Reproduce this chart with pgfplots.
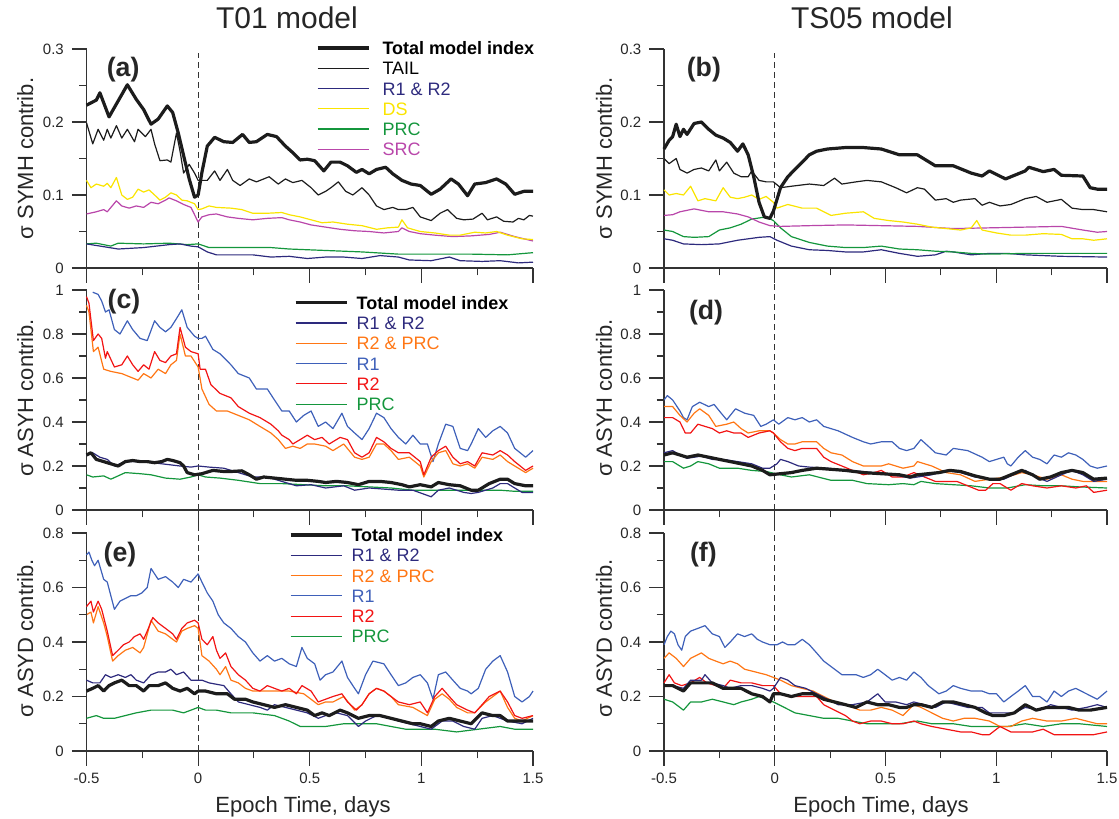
\documentclass[border=0pt]{standalone}
\usepackage{fontspec}
\setmainfont{Liberation Sans}
\usepackage{pgfplots}
\pgfplotsset{compat=1.18}
\definecolor{cnavy}{RGB}{45,42,125}
\definecolor{cyel}{RGB}{250,228,0}
\definecolor{cgreen}{RGB}{20,150,60}
\definecolor{cmag}{RGB}{185,70,170}
\definecolor{corange}{RGB}{255,118,20}
\definecolor{cblue}{RGB}{62,96,185}
\definecolor{cred}{RGB}{242,20,20}
\definecolor{cblk}{RGB}{28,28,28}
\tikzset{plab/.style={font=\bfseries\fontsize{20}{24}\selectfont, text=black!85},
  tickline/.style={draw=black!80, line width=0.8pt, line cap=butt}}
\newcommand{\panelticks}[2]{%
  \pgfplotsinvokeforeach{-0.5,0,0.5,1,1.5}{\draw[tickline] (axis cs:##1,0) -- ++(0pt,-11pt);}%
  \pgfplotsinvokeforeach{-0.25,0.25,0.75,1.25}{\draw[tickline] (axis cs:##1,0) -- ++(0pt,-5.6pt);}%
  \pgfplotsinvokeforeach{#1}{\draw[tickline] (axis cs:-0.5,##1) -- ++(-11pt,0pt);}%
  \pgfplotsinvokeforeach{#2}{\draw[tickline] (axis cs:-0.5,##1) -- ++(-5.6pt,0pt);}%
}
\pgfplotsset{
 panel/.style={
  scale only axis, anchor=south west, clip=false,
  axis x line*=bottom, axis y line*=left,
  xtick pos=left, ytick pos=left,
  axis line style={-, line width=0.8pt, draw=black!80},
  tick align=outside, major tick length=11pt, minor tick length=5.6pt,
  every tick/.style={draw=black!80, line width=0.8pt},
  xmin=-0.5, xmax=1.5, xtick={-0.5,0,0.5,1,1.5}, minor xtick={-0.25,0.25,0.75,1.25},
  ymin=0,
  tick label style={font=\fontsize{11.25}{13}\selectfont, text=black!85},
  yticklabel style={xshift=-2.5pt},
  xticklabel style={yshift=-2pt},
  label style={font=\fontsize{16.5}{19}\selectfont, text=black!85},
  xlabel style={at={(axis description cs:0.485,0)}, anchor=center, yshift=-42pt},
  every axis plot/.append style={line width=0.9pt, line join=round},
  legend cell align=left,
  legend image code/.code={\draw[##1] (0pt,0pt) -- (38.5pt,0pt);},
  legend style={draw=none, fill=none, inner sep=0pt, outer sep=0pt, row sep=0pt, anchor=north west,
    font=\fontsize{13.5}{15}\selectfont, nodes={inner sep=0pt, text height=12.5pt, text depth=2.7pt}},
  title style={font=\fontsize{22.5}{26}\selectfont, anchor=center, text=black!85},
 },
 totstyle/.style={cblk, line width=2.4pt},
 zeroline/.style={forget plot, black!80, line width=0.75pt, dash pattern=on 4.5pt off 3pt},
}
\begin{document}
\begin{tikzpicture}
\useasboundingbox (0,0) rectangle (839.25pt,613.5pt);
% ================= (a) =================
\begin{axis}[panel, at={(64.875pt,412.5pt)}, width=334.875pt, height=164.25pt, ymax=0.3,
  ytick={0,0.1,0.2,0.3}, yticklabels={0,0.1,0.2,0.3}, minor ytick={0.05,0.15,0.25},
  xticklabels={},
  ylabel={σ SYMH contrib.}, ylabel style={at={(axis description cs:-0.1374,0.5)}, anchor=center},
  title={T01 model}, title style={at={(axis description cs:0.449,1.105)}},
  legend style={at={(axis description cs:0.514,1.051)}, /tikz/every odd column/.style={column sep=9pt}}]
\addlegendimage{totstyle}\addlegendentry{\textbf{Total model index}}
\addlegendimage{cblk, line width=0.9pt}\addlegendentry{TAIL}
\addlegendimage{cnavy, line width=0.9pt}\addlegendentry{\textcolor{cnavy}{R1 \& R2}}
\addlegendimage{cyel, line width=0.9pt}\addlegendentry{\textcolor{cyel}{DS}}
\addlegendimage{cgreen, line width=0.9pt}\addlegendentry{\textcolor{cgreen}{PRC}}
\addlegendimage{cmag, line width=0.9pt}\addlegendentry{\textcolor{cmag}{SRC}}
\addplot[zeroline] coordinates {(0,0) (0,0.295)};
\addplot[forget plot, cgreen] coordinates {(-0.5,0.033) (-0.456,0.034) (-0.391,0.03) (-0.358,0.034) (-0.244,0.033) (-0.13,0.034) (-0.049,0.032) (0,0.033) (0.049,0.028) (0.163,0.028) (0.326,0.028) (0.408,0.026) (0.571,0.024) (0.734,0.022) (0.897,0.019) (1.06,0.019) (1.223,0.019) (1.386,0.018) (1.5,0.021)};
\addplot[forget plot, cnavy] coordinates {(-0.5,0.033) (-0.358,0.026) (-0.244,0.028) (-0.13,0.032) (-0.081,0.033) (-0.032,0.03) (0,0.029) (0.041,0.022) (0.082,0.018) (0.245,0.018) (0.326,0.015) (0.408,0.016) (0.489,0.013) (0.571,0.015) (0.652,0.015) (0.734,0.013) (0.815,0.017) (0.897,0.015) (0.946,0.011) (1.044,0.01) (1.125,0.015) (1.174,0.01) (1.272,0.009) (1.353,0.01) (1.435,0.007) (1.5,0.008)};
\addplot[forget plot, cmag] coordinates {(-0.5,0.074) (-0.456,0.077) (-0.423,0.08) (-0.407,0.077) (-0.366,0.092) (-0.342,0.085) (-0.309,0.082) (-0.277,0.085) (-0.244,0.083) (-0.211,0.09) (-0.179,0.088) (-0.146,0.093) (-0.13,0.096) (-0.097,0.092) (-0.065,0.087) (-0.032,0.083) (0,0.063) (0.017,0.07) (0.049,0.073) (0.082,0.074) (0.131,0.07) (0.18,0.068) (0.245,0.066) (0.31,0.068) (0.375,0.069) (0.408,0.066) (0.457,0.063) (0.506,0.059) (0.571,0.056) (0.636,0.053) (0.701,0.051) (0.766,0.05) (0.832,0.048) (0.897,0.05) (0.913,0.055) (0.946,0.05) (0.995,0.047) (1.06,0.045) (1.141,0.043) (1.223,0.044) (1.304,0.046) (1.353,0.049) (1.418,0.043) (1.5,0.037)};
\addplot[forget plot, cyel] coordinates {(-0.5,0.12) (-0.48,0.11) (-0.456,0.115) (-0.423,0.112) (-0.407,0.116) (-0.391,0.11) (-0.366,0.124) (-0.342,0.1) (-0.317,0.094) (-0.293,0.097) (-0.269,0.108) (-0.244,0.104) (-0.22,0.107) (-0.195,0.1) (-0.171,0.093) (-0.146,0.097) (-0.122,0.103) (-0.097,0.1) (-0.073,0.093) (-0.049,0.092) (-0.016,0.088) (0,0.08) (0.017,0.081) (0.049,0.085) (0.082,0.083) (0.147,0.082) (0.196,0.08) (0.245,0.075) (0.31,0.075) (0.375,0.076) (0.408,0.073) (0.457,0.07) (0.506,0.066) (0.555,0.062) (0.604,0.063) (0.669,0.06) (0.734,0.058) (0.799,0.053) (0.848,0.055) (0.897,0.056) (0.913,0.066) (0.938,0.055) (0.995,0.05) (1.06,0.048) (1.125,0.045) (1.174,0.045) (1.239,0.049) (1.288,0.048) (1.337,0.05) (1.386,0.045) (1.451,0.04) (1.5,0.039)};
\addplot[forget plot, cblk] coordinates {(-0.5,0.199) (-0.472,0.17) (-0.448,0.19) (-0.423,0.175) (-0.407,0.19) (-0.391,0.178) (-0.366,0.195) (-0.342,0.178) (-0.317,0.19) (-0.285,0.173) (-0.269,0.19) (-0.236,0.18) (-0.211,0.19) (-0.195,0.17) (-0.171,0.147) (-0.138,0.148) (-0.122,0.145) (-0.097,0.185) (-0.081,0.16) (-0.065,0.13) (-0.04,0.142) (-0.016,0.13) (0,0.12) (0.017,0.12) (0.041,0.12) (0.074,0.133) (0.098,0.12) (0.131,0.135) (0.155,0.12) (0.188,0.113) (0.229,0.122) (0.261,0.118) (0.318,0.125) (0.359,0.115) (0.391,0.122) (0.424,0.117) (0.465,0.12) (0.506,0.11) (0.538,0.1) (0.571,0.105) (0.595,0.11) (0.628,0.118) (0.661,0.105) (0.693,0.1) (0.734,0.11) (0.766,0.1) (0.799,0.085) (0.832,0.08) (0.872,0.083) (0.897,0.08) (0.93,0.08) (0.962,0.083) (0.995,0.07) (1.044,0.065) (1.084,0.075) (1.117,0.08) (1.158,0.068) (1.19,0.066) (1.231,0.067) (1.272,0.075) (1.296,0.066) (1.337,0.07) (1.369,0.064) (1.41,0.063) (1.435,0.068) (1.459,0.066) (1.484,0.072) (1.5,0.071)};
\addplot[forget plot, totstyle] coordinates {(-0.5,0.223) (-0.456,0.23) (-0.44,0.24) (-0.399,0.207) (-0.317,0.251) (-0.277,0.231) (-0.244,0.217) (-0.211,0.197) (-0.179,0.204) (-0.138,0.222) (-0.114,0.213) (-0.089,0.185) (-0.065,0.154) (-0.04,0.122) (-0.016,0.097) (0,0.1) (0.017,0.131) (0.041,0.167) (0.074,0.179) (0.115,0.173) (0.155,0.172) (0.199,0.183) (0.229,0.172) (0.261,0.173) (0.31,0.183) (0.351,0.18) (0.391,0.167) (0.424,0.158) (0.457,0.148) (0.489,0.149) (0.522,0.147) (0.563,0.133) (0.595,0.145) (0.636,0.145) (0.669,0.14) (0.709,0.131) (0.734,0.135) (0.766,0.129) (0.799,0.135) (0.84,0.138) (0.872,0.129) (0.913,0.12) (0.954,0.115) (0.995,0.113) (1.044,0.101) (1.084,0.108) (1.133,0.122) (1.166,0.115) (1.207,0.099) (1.239,0.115) (1.288,0.117) (1.337,0.122) (1.378,0.115) (1.418,0.101) (1.459,0.105) (1.5,0.105)};
\panelticks{0,0.1,0.2,0.3}{0.05,0.15,0.25}
\node[plab] at (axis description cs:0.082,0.904) {(a)};
\end{axis}
% ================= (b) =================
\begin{axis}[panel, at={(498pt,412.5pt)}, width=332.25pt, height=164.25pt, ymax=0.3,
  ytick={0,0.1,0.2,0.3}, yticklabels={0,0.1,0.2,0.3}, minor ytick={0.05,0.15,0.25},
  xticklabels={},
  ylabel={σ SYMH contrib.}, ylabel style={at={(axis description cs:-0.1354,0.5)}, anchor=center},
  title={TS05 model}, title style={at={(axis description cs:0.4695,1.105)}}]
\addplot[zeroline] coordinates {(0,0) (0,0.295)};
\addplot[cnavy] coordinates {(-0.5,0.04) (-0.461,0.038) (-0.412,0.033) (-0.331,0.032) (-0.25,0.033) (-0.168,0.038) (-0.071,0.042) (-0.022,0.043) (0.01,0.038) (0.075,0.03) (0.156,0.025) (0.238,0.024) (0.319,0.022) (0.4,0.022) (0.481,0.025) (0.563,0.02) (0.644,0.016) (0.725,0.018) (0.774,0.023) (0.806,0.022) (0.887,0.018) (0.969,0.02) (1.05,0.02) (1.131,0.018) (1.294,0.016) (1.5,0.015)};
\addplot[cgreen] coordinates {(-0.5,0.052) (-0.461,0.05) (-0.412,0.043) (-0.364,0.042) (-0.298,0.043) (-0.25,0.052) (-0.201,0.055) (-0.152,0.06) (-0.104,0.067) (-0.039,0.07) (-0.006,0.065) (0.026,0.055) (0.075,0.043) (0.156,0.035) (0.238,0.03) (0.319,0.028) (0.4,0.028) (0.481,0.03) (0.563,0.026) (0.644,0.025) (0.725,0.023) (0.806,0.022) (0.887,0.02) (0.969,0.019) (1.131,0.02) (1.294,0.02) (1.5,0.02)};
\addplot[cmag] coordinates {(-0.5,0.072) (-0.461,0.073) (-0.428,0.077) (-0.364,0.081) (-0.298,0.077) (-0.233,0.077) (-0.168,0.074) (-0.12,0.07) (-0.071,0.063) (-0.022,0.058) (0.026,0.057) (0.156,0.058) (0.319,0.059) (0.481,0.058) (0.644,0.057) (0.806,0.054) (0.969,0.055) (1.131,0.056) (1.294,0.057) (1.391,0.052) (1.456,0.049) (1.5,0.05)};
\addplot[cyel] coordinates {(-0.5,0.107) (-0.477,0.1) (-0.445,0.102) (-0.412,0.1) (-0.38,0.112) (-0.347,0.092) (-0.315,0.095) (-0.266,0.092) (-0.233,0.11) (-0.201,0.097) (-0.168,0.095) (-0.136,0.097) (-0.104,0.1) (-0.071,0.094) (-0.039,0.098) (-0.006,0.09) (0.01,0.082) (0.059,0.087) (0.124,0.082) (0.189,0.082) (0.254,0.072) (0.319,0.075) (0.4,0.077) (0.449,0.068) (0.514,0.065) (0.579,0.063) (0.644,0.06) (0.709,0.056) (0.774,0.054) (0.839,0.052) (0.887,0.055) (0.912,0.065) (0.936,0.052) (1.001,0.048) (1.066,0.045) (1.131,0.045) (1.212,0.047) (1.294,0.046) (1.342,0.04) (1.391,0.04) (1.44,0.038) (1.5,0.04)};
\addplot[cblk] coordinates {(-0.5,0.15) (-0.477,0.143) (-0.445,0.15) (-0.428,0.135) (-0.396,0.13) (-0.364,0.135) (-0.331,0.137) (-0.298,0.133) (-0.266,0.148) (-0.25,0.133) (-0.217,0.145) (-0.185,0.13) (-0.152,0.125) (-0.12,0.125) (-0.104,0.133) (-0.071,0.12) (-0.039,0.118) (-0.006,0.118) (0.026,0.11) (0.075,0.112) (0.156,0.115) (0.221,0.113) (0.27,0.123) (0.303,0.115) (0.367,0.118) (0.416,0.12) (0.481,0.118) (0.546,0.11) (0.595,0.103) (0.644,0.11) (0.676,0.108) (0.725,0.093) (0.774,0.095) (0.806,0.09) (0.839,0.093) (0.904,0.095) (0.936,0.086) (0.969,0.09) (1.017,0.085) (1.066,0.087) (1.131,0.095) (1.18,0.098) (1.229,0.09) (1.294,0.094) (1.342,0.082) (1.391,0.08) (1.44,0.08) (1.5,0.077)};
\addplot[totstyle] coordinates {(-0.5,0.163) (-0.477,0.175) (-0.461,0.18) (-0.445,0.197) (-0.428,0.18) (-0.412,0.19) (-0.396,0.183) (-0.364,0.198) (-0.331,0.2) (-0.298,0.19) (-0.266,0.182) (-0.233,0.178) (-0.201,0.172) (-0.168,0.16) (-0.144,0.17) (-0.12,0.155) (-0.095,0.125) (-0.071,0.09) (-0.047,0.07) (-0.022,0.068) (-0.006,0.078) (0.026,0.11) (0.059,0.125) (0.091,0.135) (0.124,0.145) (0.156,0.155) (0.189,0.16) (0.238,0.163) (0.319,0.165) (0.4,0.165) (0.481,0.163) (0.563,0.155) (0.644,0.155) (0.725,0.14) (0.806,0.14) (0.887,0.13) (0.936,0.126) (0.969,0.133) (1.042,0.122) (1.131,0.133) (1.147,0.138) (1.212,0.132) (1.261,0.135) (1.294,0.127) (1.391,0.126) (1.424,0.11) (1.456,0.108) (1.5,0.108)};
\panelticks{0,0.1,0.2,0.3}{0.05,0.15,0.25}
\node[plab] at (axis description cs:0.09,0.904) {(b)};
\end{axis}
% ================= (c) =================
\begin{axis}[panel, at={(64.875pt,231pt)}, width=334.875pt, height=165pt, ymax=1,
  ytick={0,0.2,0.4,0.6,0.8,1}, yticklabels={0,0.2,0.4,0.6,0.8,1}, minor ytick={0.1,0.3,0.5,0.7,0.9},
  xticklabels={},
  ylabel={σ ASYH contrib.}, ylabel style={at={(axis description cs:-0.1374,0.51)}, anchor=center},
  legend style={at={(axis description cs:0.465,0.988)}, /tikz/every odd column/.style={column sep=6pt}}]
\addlegendimage{totstyle}\addlegendentry{\textbf{Total model index}}
\addlegendimage{cnavy, line width=0.9pt}\addlegendentry{\textcolor{cnavy}{R1 \& R2}}
\addlegendimage{corange, line width=0.9pt}\addlegendentry{\textcolor{corange}{R2 \& PRC}}
\addlegendimage{cblue, line width=0.9pt}\addlegendentry{\textcolor{cblue}{R1}}
\addlegendimage{cred, line width=0.9pt}\addlegendentry{\textcolor{cred}{R2}}
\addlegendimage{cgreen, line width=0.9pt}\addlegendentry{\textcolor{cgreen}{PRC}}
\addplot[zeroline] coordinates {(0,0) (0,1.095)};
\addplot[forget plot, cgreen] coordinates {(-0.5,0.16) (-0.472,0.15) (-0.423,0.155) (-0.391,0.14) (-0.326,0.17) (-0.26,0.165) (-0.211,0.16) (-0.146,0.145) (-0.081,0.14) (-0.032,0.15) (0,0.16) (0.033,0.15) (0.098,0.145) (0.18,0.135) (0.277,0.12) (0.375,0.12) (0.473,0.115) (0.571,0.11) (0.669,0.11) (0.766,0.105) (0.864,0.1) (0.962,0.09) (1.06,0.09) (1.158,0.09) (1.255,0.09) (1.353,0.09) (1.418,0.085) (1.5,0.085)};
\addplot[forget plot, cblue] coordinates {(-0.472,0.99) (-0.448,0.98) (-0.432,0.95) (-0.415,0.9) (-0.399,0.91) (-0.375,0.82) (-0.35,0.8) (-0.317,0.86) (-0.293,0.82) (-0.26,0.78) (-0.228,0.77) (-0.195,0.86) (-0.171,0.83) (-0.146,0.81) (-0.122,0.83) (-0.097,0.87) (-0.073,0.91) (-0.049,0.83) (-0.016,0.79) (0,0.78) (0.017,0.78) (0.033,0.79) (0.066,0.73) (0.098,0.71) (0.147,0.66) (0.18,0.62) (0.229,0.6) (0.261,0.55) (0.31,0.55) (0.342,0.5) (0.375,0.45) (0.408,0.45) (0.44,0.4) (0.473,0.43) (0.506,0.45) (0.538,0.38) (0.571,0.4) (0.604,0.37) (0.644,0.44) (0.669,0.38) (0.701,0.35) (0.734,0.32) (0.766,0.37) (0.799,0.44) (0.832,0.42) (0.864,0.37) (0.897,0.33) (0.93,0.3) (0.962,0.34) (0.995,0.3) (1.027,0.3) (1.052,0.22) (1.076,0.3) (1.109,0.39) (1.141,0.38) (1.174,0.28) (1.207,0.27) (1.223,0.3) (1.255,0.37) (1.288,0.33) (1.32,0.36) (1.353,0.38) (1.386,0.35) (1.418,0.28) (1.467,0.24) (1.5,0.27)};
\addplot[forget plot, corange] coordinates {(-0.5,0.93) (-0.489,0.9) (-0.469,0.72) (-0.448,0.74) (-0.423,0.64) (-0.391,0.63) (-0.342,0.62) (-0.293,0.6) (-0.269,0.59) (-0.244,0.62) (-0.211,0.6) (-0.179,0.64) (-0.146,0.62) (-0.122,0.66) (-0.097,0.68) (-0.081,0.8) (-0.057,0.7) (-0.032,0.7) (0,0.65) (0.017,0.55) (0.049,0.48) (0.082,0.45) (0.131,0.45) (0.18,0.43) (0.229,0.41) (0.277,0.38) (0.326,0.35) (0.359,0.32) (0.391,0.28) (0.424,0.29) (0.457,0.28) (0.489,0.3) (0.522,0.3) (0.571,0.29) (0.604,0.27) (0.652,0.3) (0.701,0.24) (0.734,0.23) (0.766,0.24) (0.799,0.3) (0.832,0.3) (0.864,0.27) (0.897,0.23) (0.946,0.24) (0.995,0.2) (1.011,0.15) (1.044,0.22) (1.076,0.26) (1.109,0.27) (1.141,0.21) (1.174,0.2) (1.207,0.21) (1.239,0.19) (1.272,0.24) (1.32,0.23) (1.353,0.25) (1.386,0.22) (1.418,0.2) (1.467,0.17) (1.5,0.19)};
\addplot[forget plot, cred] coordinates {(-0.5,0.97) (-0.489,0.94) (-0.469,0.77) (-0.448,0.8) (-0.432,0.78) (-0.415,0.69) (-0.407,0.72) (-0.375,0.65) (-0.342,0.66) (-0.317,0.7) (-0.293,0.66) (-0.269,0.63) (-0.244,0.66) (-0.22,0.64) (-0.195,0.72) (-0.171,0.68) (-0.146,0.67) (-0.122,0.7) (-0.097,0.71) (-0.081,0.83) (-0.057,0.74) (-0.032,0.72) (0,0.71) (0.009,0.64) (0.033,0.64) (0.057,0.57) (0.098,0.53) (0.147,0.51) (0.18,0.47) (0.229,0.44) (0.277,0.42) (0.326,0.39) (0.359,0.36) (0.375,0.34) (0.408,0.32) (0.424,0.3) (0.457,0.32) (0.489,0.34) (0.522,0.32) (0.555,0.33) (0.587,0.3) (0.636,0.33) (0.669,0.32) (0.701,0.26) (0.734,0.24) (0.766,0.26) (0.799,0.33) (0.832,0.31) (0.864,0.28) (0.897,0.26) (0.946,0.26) (0.995,0.22) (1.011,0.16) (1.044,0.24) (1.076,0.27) (1.109,0.29) (1.141,0.24) (1.174,0.21) (1.207,0.22) (1.239,0.2) (1.272,0.26) (1.32,0.25) (1.353,0.27) (1.386,0.25) (1.418,0.22) (1.467,0.18) (1.5,0.2)};
\addplot[forget plot, cnavy] coordinates {(-0.5,0.25) (-0.472,0.26) (-0.44,0.24) (-0.407,0.23) (-0.375,0.2) (-0.326,0.22) (-0.244,0.22) (-0.163,0.21) (-0.081,0.2) (-0.032,0.195) (0,0.2) (0.049,0.195) (0.115,0.19) (0.18,0.17) (0.245,0.15) (0.31,0.15) (0.375,0.13) (0.44,0.11) (0.506,0.115) (0.571,0.1) (0.652,0.11) (0.701,0.09) (0.766,0.1) (0.832,0.095) (0.897,0.09) (0.962,0.09) (1.044,0.06) (1.076,0.09) (1.125,0.1) (1.19,0.08) (1.223,0.075) (1.255,0.08) (1.32,0.1) (1.353,0.12) (1.386,0.12) (1.418,0.1) (1.451,0.08) (1.5,0.08)};
\addplot[forget plot, totstyle] coordinates {(-0.5,0.25) (-0.48,0.26) (-0.456,0.23) (-0.423,0.22) (-0.391,0.21) (-0.358,0.2) (-0.326,0.22) (-0.293,0.225) (-0.26,0.22) (-0.228,0.22) (-0.195,0.215) (-0.163,0.22) (-0.138,0.23) (-0.114,0.225) (-0.081,0.215) (-0.065,0.2) (-0.049,0.17) (-0.016,0.16) (0.017,0.165) (0.066,0.18) (0.115,0.175) (0.147,0.175) (0.196,0.178) (0.229,0.16) (0.261,0.14) (0.294,0.15) (0.342,0.145) (0.391,0.14) (0.44,0.135) (0.489,0.135) (0.538,0.13) (0.571,0.125) (0.62,0.13) (0.669,0.125) (0.718,0.115) (0.766,0.13) (0.815,0.13) (0.864,0.125) (0.913,0.115) (0.946,0.105) (0.995,0.115) (1.044,0.105) (1.076,0.125) (1.125,0.115) (1.174,0.11) (1.223,0.09) (1.255,0.09) (1.304,0.12) (1.353,0.14) (1.386,0.14) (1.418,0.12) (1.467,0.11) (1.5,0.11)};
\panelticks{0,0.2,0.4,0.6,0.8,1}{0.1,0.3,0.5,0.7,0.9}
\node[plab] at (axis description cs:0.084,0.945) {(c)};
\end{axis}
% ================= (d) =================
\begin{axis}[panel, at={(498pt,231pt)}, width=332.25pt, height=165pt, ymax=1,
  ytick={0,0.2,0.4,0.6,0.8,1}, yticklabels={0,0.2,0.4,0.6,0.8,1}, minor ytick={0.1,0.3,0.5,0.7,0.9},
  xticklabels={},
  ylabel={σ ASYH contrib.}, ylabel style={at={(axis description cs:-0.1354,0.51)}, anchor=center}]
\addplot[zeroline] coordinates {(0,0) (0,1.095)};
\addplot[cgreen] coordinates {(-0.5,0.22) (-0.461,0.22) (-0.412,0.19) (-0.38,0.2) (-0.347,0.22) (-0.298,0.21) (-0.25,0.19) (-0.168,0.19) (-0.104,0.18) (-0.039,0.175) (0.026,0.16) (0.075,0.15) (0.156,0.16) (0.254,0.135) (0.351,0.135) (0.416,0.12) (0.514,0.115) (0.579,0.12) (0.628,0.115) (0.66,0.13) (0.725,0.12) (0.806,0.115) (0.887,0.11) (0.969,0.1) (1.05,0.1) (1.131,0.115) (1.212,0.11) (1.294,0.11) (1.375,0.105) (1.5,0.1)};
\addplot[cblue] coordinates {(-0.5,0.5) (-0.485,0.52) (-0.461,0.5) (-0.428,0.45) (-0.412,0.42) (-0.396,0.41) (-0.372,0.47) (-0.339,0.49) (-0.298,0.47) (-0.274,0.48) (-0.25,0.45) (-0.217,0.41) (-0.177,0.46) (-0.136,0.44) (-0.095,0.43) (-0.063,0.38) (-0.039,0.39) (-0.006,0.41) (0.018,0.39) (0.059,0.42) (0.091,0.41) (0.124,0.42) (0.156,0.4) (0.189,0.41) (0.221,0.38) (0.286,0.36) (0.351,0.33) (0.4,0.31) (0.433,0.3) (0.481,0.31) (0.53,0.31) (0.563,0.28) (0.595,0.27) (0.628,0.28) (0.66,0.32) (0.693,0.29) (0.725,0.26) (0.774,0.25) (0.806,0.28) (0.871,0.27) (0.936,0.24) (0.969,0.22) (1.001,0.23) (1.034,0.24) (1.05,0.21) (1.066,0.2) (1.099,0.24) (1.131,0.27) (1.164,0.24) (1.196,0.23) (1.229,0.21) (1.261,0.25) (1.294,0.24) (1.326,0.26) (1.359,0.25) (1.391,0.23) (1.424,0.2) (1.456,0.19) (1.5,0.2)};
\addplot[corange] coordinates {(-0.5,0.47) (-0.461,0.47) (-0.428,0.43) (-0.396,0.4) (-0.364,0.44) (-0.339,0.46) (-0.298,0.43) (-0.266,0.38) (-0.217,0.39) (-0.185,0.4) (-0.152,0.37) (-0.12,0.35) (-0.071,0.36) (-0.022,0.36) (-0.006,0.35) (0.026,0.32) (0.059,0.3) (0.091,0.3) (0.124,0.31) (0.189,0.31) (0.221,0.28) (0.254,0.26) (0.303,0.25) (0.351,0.22) (0.4,0.2) (0.481,0.2) (0.514,0.21) (0.579,0.19) (0.628,0.2) (0.644,0.22) (0.709,0.2) (0.774,0.17) (0.839,0.16) (0.904,0.13) (0.969,0.14) (1.05,0.15) (1.115,0.17) (1.164,0.16) (1.229,0.14) (1.294,0.16) (1.342,0.14) (1.391,0.13) (1.44,0.13) (1.5,0.13)};
\addplot[cred] coordinates {(-0.5,0.42) (-0.461,0.42) (-0.428,0.4) (-0.404,0.35) (-0.38,0.35) (-0.347,0.39) (-0.315,0.38) (-0.282,0.37) (-0.25,0.35) (-0.217,0.36) (-0.185,0.35) (-0.152,0.35) (-0.12,0.33) (-0.071,0.35) (-0.022,0.36) (-0.006,0.35) (0.026,0.31) (0.059,0.28) (0.091,0.27) (0.124,0.28) (0.189,0.28) (0.221,0.24) (0.254,0.22) (0.303,0.2) (0.351,0.18) (0.4,0.16) (0.449,0.17) (0.481,0.18) (0.53,0.15) (0.579,0.15) (0.628,0.17) (0.676,0.15) (0.725,0.13) (0.774,0.13) (0.822,0.13) (0.871,0.11) (0.92,0.09) (0.952,0.09) (0.985,0.12) (1.017,0.12) (1.066,0.09) (1.115,0.12) (1.164,0.11) (1.229,0.1) (1.294,0.11) (1.359,0.1) (1.407,0.11) (1.44,0.08) (1.5,0.09)};
\addplot[cnavy] coordinates {(-0.5,0.26) (-0.461,0.27) (-0.428,0.25) (-0.396,0.235) (-0.331,0.245) (-0.282,0.23) (-0.233,0.23) (-0.168,0.22) (-0.104,0.21) (-0.055,0.19) (-0.022,0.19) (0.01,0.21) (0.026,0.23) (0.059,0.22) (0.108,0.2) (0.156,0.195) (0.238,0.19) (0.319,0.18) (0.4,0.175) (0.481,0.165) (0.563,0.155) (0.611,0.145) (0.644,0.15) (0.709,0.16) (0.774,0.18) (0.839,0.17) (0.904,0.15) (0.969,0.14) (1.034,0.14) (1.099,0.17) (1.131,0.18) (1.18,0.15) (1.229,0.13) (1.294,0.16) (1.342,0.18) (1.391,0.16) (1.44,0.13) (1.5,0.14)};
\addplot[totstyle] coordinates {(-0.5,0.25) (-0.461,0.26) (-0.428,0.25) (-0.396,0.24) (-0.347,0.25) (-0.298,0.24) (-0.25,0.23) (-0.201,0.22) (-0.152,0.21) (-0.104,0.2) (-0.055,0.18) (-0.022,0.16) (0.026,0.165) (0.075,0.17) (0.124,0.18) (0.189,0.19) (0.254,0.185) (0.319,0.18) (0.4,0.17) (0.481,0.165) (0.563,0.16) (0.611,0.15) (0.644,0.16) (0.693,0.165) (0.741,0.17) (0.79,0.18) (0.839,0.175) (0.904,0.155) (0.969,0.14) (1.017,0.14) (1.066,0.16) (1.115,0.18) (1.164,0.16) (1.196,0.14) (1.245,0.15) (1.294,0.17) (1.342,0.18) (1.391,0.17) (1.44,0.14) (1.5,0.145)};
\panelticks{0,0.2,0.4,0.6,0.8,1}{0.1,0.3,0.5,0.7,0.9}
\node[plab] at (axis description cs:0.095,0.895) {(d)};
\end{axis}
% ================= (e) =================
\begin{axis}[panel, at={(64.875pt,50.25pt)}, width=334.875pt, height=163.5pt, ymax=0.8,
  ytick={0,0.2,0.4,0.6,0.8}, yticklabels={0,0.2,0.4,0.6,0.8}, minor ytick={0.1,0.3,0.5,0.7},
  xticklabels={-0.5,0,0.5,1,1.5}, xlabel={Epoch Time, days},
  ylabel={σ ASYD contrib.}, ylabel style={at={(axis description cs:-0.1374,0.518)}, anchor=center},
  legend style={at={(axis description cs:0.4535,1.037)}, /tikz/every odd column/.style={column sep=6pt}}]
\addlegendimage{totstyle}\addlegendentry{\textbf{Total model index}}
\addlegendimage{cnavy, line width=0.9pt}\addlegendentry{\textcolor{cnavy}{R1 \& R2}}
\addlegendimage{corange, line width=0.9pt}\addlegendentry{\textcolor{corange}{R2 \& PRC}}
\addlegendimage{cblue, line width=0.9pt}\addlegendentry{\textcolor{cblue}{R1}}
\addlegendimage{cred, line width=0.9pt}\addlegendentry{\textcolor{cred}{R2}}
\addlegendimage{cgreen, line width=0.9pt}\addlegendentry{\textcolor{cgreen}{PRC}}
\addplot[zeroline] coordinates {(0,0) (0,0.884)};
\addplot[forget plot, cgreen] coordinates {(-0.5,0.12) (-0.456,0.13) (-0.423,0.12) (-0.375,0.12) (-0.326,0.13) (-0.277,0.14) (-0.211,0.15) (-0.163,0.15) (-0.114,0.15) (-0.065,0.14) (-0.032,0.15) (0,0.16) (0.033,0.15) (0.082,0.15) (0.147,0.14) (0.245,0.14) (0.342,0.13) (0.408,0.11) (0.457,0.09) (0.522,0.09) (0.571,0.09) (0.652,0.1) (0.734,0.1) (0.799,0.1) (0.864,0.09) (0.93,0.08) (0.995,0.08) (1.06,0.08) (1.158,0.07) (1.255,0.08) (1.353,0.09) (1.418,0.08) (1.5,0.08)};
\addplot[forget plot, cblue] coordinates {(-0.5,0.72) (-0.489,0.73) (-0.476,0.7) (-0.464,0.68) (-0.448,0.7) (-0.423,0.63) (-0.407,0.62) (-0.391,0.57) (-0.375,0.52) (-0.35,0.55) (-0.326,0.56) (-0.301,0.57) (-0.277,0.57) (-0.252,0.58) (-0.228,0.6) (-0.211,0.67) (-0.179,0.63) (-0.146,0.64) (-0.114,0.62) (-0.089,0.6) (-0.065,0.63) (-0.032,0.62) (0,0.65) (0.017,0.62) (0.041,0.58) (0.066,0.55) (0.09,0.5) (0.115,0.47) (0.147,0.45) (0.18,0.42) (0.212,0.4) (0.245,0.36) (0.277,0.33) (0.31,0.35) (0.342,0.33) (0.375,0.34) (0.408,0.32) (0.44,0.31) (0.465,0.38) (0.489,0.34) (0.522,0.32) (0.546,0.26) (0.571,0.28) (0.604,0.29) (0.644,0.33) (0.669,0.27) (0.701,0.23) (0.718,0.21) (0.75,0.28) (0.783,0.33) (0.832,0.32) (0.864,0.28) (0.897,0.24) (0.93,0.25) (0.962,0.27) (0.995,0.28) (1.027,0.25) (1.052,0.19) (1.076,0.28) (1.109,0.29) (1.141,0.26) (1.174,0.23) (1.207,0.22) (1.223,0.21) (1.255,0.23) (1.288,0.3) (1.32,0.33) (1.353,0.35) (1.386,0.29) (1.418,0.2) (1.451,0.18) (1.484,0.2) (1.5,0.22)};
\addplot[forget plot, corange] coordinates {(-0.5,0.5) (-0.48,0.51) (-0.469,0.47) (-0.448,0.53) (-0.423,0.47) (-0.407,0.42) (-0.383,0.33) (-0.358,0.35) (-0.326,0.37) (-0.293,0.38) (-0.26,0.36) (-0.244,0.38) (-0.211,0.48) (-0.179,0.44) (-0.146,0.43) (-0.114,0.41) (-0.097,0.4) (-0.073,0.44) (-0.049,0.45) (-0.016,0.46) (0,0.45) (0.017,0.35) (0.049,0.33) (0.082,0.3) (0.098,0.28) (0.123,0.31) (0.147,0.26) (0.18,0.25) (0.212,0.23) (0.245,0.22) (0.277,0.22) (0.342,0.22) (0.408,0.22) (0.473,0.21) (0.538,0.17) (0.571,0.18) (0.604,0.18) (0.652,0.2) (0.701,0.15) (0.734,0.17) (0.766,0.21) (0.799,0.23) (0.832,0.22) (0.864,0.2) (0.897,0.17) (0.962,0.16) (1.027,0.13) (1.06,0.19) (1.093,0.21) (1.125,0.19) (1.158,0.16) (1.207,0.14) (1.239,0.14) (1.288,0.18) (1.353,0.22) (1.386,0.16) (1.418,0.12) (1.451,0.11) (1.5,0.13)};
\addplot[forget plot, cred] coordinates {(-0.5,0.53) (-0.48,0.55) (-0.469,0.51) (-0.448,0.55) (-0.432,0.52) (-0.407,0.44) (-0.383,0.35) (-0.358,0.37) (-0.334,0.39) (-0.309,0.4) (-0.285,0.42) (-0.26,0.43) (-0.244,0.41) (-0.228,0.44) (-0.203,0.49) (-0.179,0.47) (-0.146,0.45) (-0.114,0.43) (-0.097,0.41) (-0.073,0.45) (-0.049,0.47) (-0.016,0.48) (0,0.47) (0.017,0.41) (0.041,0.39) (0.066,0.42) (0.082,0.37) (0.098,0.34) (0.123,0.36) (0.147,0.31) (0.18,0.28) (0.212,0.26) (0.245,0.23) (0.277,0.22) (0.31,0.24) (0.342,0.23) (0.375,0.22) (0.408,0.23) (0.44,0.21) (0.465,0.24) (0.506,0.22) (0.538,0.18) (0.571,0.19) (0.604,0.2) (0.644,0.21) (0.669,0.18) (0.709,0.15) (0.734,0.17) (0.766,0.21) (0.799,0.23) (0.832,0.22) (0.864,0.2) (0.897,0.18) (0.946,0.17) (0.995,0.18) (1.027,0.14) (1.06,0.2) (1.093,0.23) (1.125,0.2) (1.158,0.17) (1.207,0.15) (1.239,0.14) (1.272,0.17) (1.304,0.2) (1.353,0.22) (1.386,0.18) (1.418,0.13) (1.451,0.12) (1.5,0.13)};
\addplot[forget plot, cnavy] coordinates {(-0.5,0.26) (-0.472,0.25) (-0.44,0.25) (-0.415,0.28) (-0.391,0.27) (-0.358,0.28) (-0.326,0.27) (-0.301,0.28) (-0.277,0.26) (-0.244,0.25) (-0.211,0.28) (-0.179,0.29) (-0.146,0.29) (-0.122,0.3) (-0.097,0.28) (-0.065,0.29) (-0.032,0.26) (0.017,0.26) (0.049,0.25) (0.115,0.24) (0.147,0.21) (0.18,0.18) (0.229,0.17) (0.277,0.16) (0.31,0.15) (0.342,0.17) (0.391,0.16) (0.44,0.15) (0.489,0.14) (0.538,0.12) (0.571,0.13) (0.62,0.14) (0.669,0.13) (0.718,0.09) (0.75,0.11) (0.799,0.13) (0.864,0.12) (0.897,0.11) (0.946,0.1) (0.995,0.09) (1.044,0.08) (1.093,0.11) (1.141,0.11) (1.19,0.09) (1.239,0.08) (1.272,0.12) (1.32,0.13) (1.353,0.12) (1.386,0.11) (1.451,0.1) (1.5,0.12)};
\addplot[forget plot, totstyle] coordinates {(-0.5,0.22) (-0.472,0.23) (-0.448,0.24) (-0.423,0.22) (-0.399,0.24) (-0.375,0.25) (-0.342,0.26) (-0.309,0.24) (-0.277,0.24) (-0.244,0.22) (-0.22,0.24) (-0.179,0.24) (-0.146,0.25) (-0.114,0.23) (-0.081,0.22) (-0.049,0.23) (-0.016,0.21) (0,0.22) (0.033,0.22) (0.082,0.21) (0.131,0.21) (0.163,0.19) (0.212,0.19) (0.245,0.18) (0.294,0.17) (0.342,0.16) (0.391,0.17) (0.44,0.16) (0.489,0.15) (0.522,0.13) (0.555,0.14) (0.587,0.13) (0.636,0.15) (0.669,0.14) (0.718,0.12) (0.766,0.13) (0.815,0.13) (0.864,0.12) (0.913,0.11) (0.962,0.1) (0.995,0.1) (1.044,0.09) (1.076,0.11) (1.125,0.12) (1.174,0.11) (1.223,0.1) (1.272,0.14) (1.32,0.13) (1.353,0.13) (1.386,0.11) (1.435,0.11) (1.5,0.11)};
\panelticks{0,0.2,0.4,0.6,0.8}{0.1,0.3,0.5,0.7}
\node[plab] at (axis description cs:0.075,0.899) {(e)};
\end{axis}
% ================= (f) =================
\begin{axis}[panel, at={(498pt,50.25pt)}, width=332.25pt, height=163.5pt, ymax=0.8,
  ytick={0,0.2,0.4,0.6,0.8}, yticklabels={0,0.2,0.4,0.6,0.8}, minor ytick={0.1,0.3,0.5,0.7},
  xticklabels={-0.5,0,0.5,1,1.5}, xlabel={Epoch Time, days}, xlabel style={at={(axis description cs:0.49,0)}},
  ylabel={σ ASYD contrib.}, ylabel style={at={(axis description cs:-0.1354,0.518)}, anchor=center}]
\addplot[zeroline] coordinates {(0,0) (0,0.884)};
\addplot[cgreen] coordinates {(-0.5,0.19) (-0.461,0.18) (-0.412,0.15) (-0.38,0.18) (-0.331,0.18) (-0.282,0.19) (-0.233,0.18) (-0.185,0.17) (-0.152,0.18) (-0.104,0.19) (-0.071,0.2) (-0.039,0.19) (-0.006,0.18) (0.043,0.16) (0.091,0.14) (0.156,0.13) (0.221,0.12) (0.286,0.12) (0.351,0.11) (0.416,0.1) (0.481,0.1) (0.563,0.1) (0.644,0.11) (0.709,0.1) (0.806,0.1) (0.887,0.09) (0.969,0.09) (1.05,0.09) (1.131,0.1) (1.212,0.09) (1.294,0.1) (1.375,0.1) (1.5,0.09)};
\addplot[cblue] coordinates {(-0.5,0.39) (-0.485,0.42) (-0.469,0.44) (-0.453,0.43) (-0.437,0.39) (-0.42,0.37) (-0.404,0.42) (-0.38,0.44) (-0.347,0.45) (-0.315,0.46) (-0.282,0.43) (-0.25,0.42) (-0.225,0.38) (-0.201,0.4) (-0.168,0.43) (-0.136,0.42) (-0.104,0.43) (-0.079,0.41) (-0.055,0.4) (-0.022,0.39) (0.01,0.39) (0.035,0.4) (0.059,0.39) (0.091,0.39) (0.124,0.41) (0.156,0.39) (0.189,0.36) (0.221,0.33) (0.254,0.31) (0.303,0.28) (0.335,0.28) (0.367,0.28) (0.4,0.27) (0.433,0.28) (0.465,0.3) (0.498,0.28) (0.53,0.26) (0.563,0.27) (0.595,0.26) (0.628,0.29) (0.66,0.27) (0.693,0.24) (0.741,0.21) (0.774,0.22) (0.806,0.24) (0.839,0.23) (0.887,0.22) (0.936,0.22) (0.969,0.21) (1.001,0.21) (1.034,0.18) (1.066,0.2) (1.099,0.22) (1.131,0.24) (1.164,0.2) (1.196,0.2) (1.229,0.18) (1.261,0.22) (1.294,0.2) (1.326,0.22) (1.359,0.23) (1.407,0.21) (1.456,0.19) (1.5,0.22)};
\addplot[corange] coordinates {(-0.5,0.34) (-0.477,0.36) (-0.445,0.34) (-0.412,0.31) (-0.38,0.34) (-0.331,0.36) (-0.298,0.34) (-0.266,0.33) (-0.233,0.32) (-0.201,0.33) (-0.168,0.32) (-0.136,0.3) (-0.087,0.29) (-0.039,0.28) (-0.006,0.27) (0.026,0.26) (0.075,0.24) (0.124,0.23) (0.173,0.22) (0.221,0.2) (0.27,0.18) (0.319,0.17) (0.384,0.15) (0.433,0.15) (0.481,0.16) (0.53,0.15) (0.579,0.13) (0.628,0.17) (0.66,0.16) (0.709,0.14) (0.758,0.12) (0.806,0.11) (0.855,0.12) (0.904,0.12) (0.969,0.11) (1.017,0.09) (1.066,0.09) (1.115,0.11) (1.164,0.12) (1.229,0.11) (1.294,0.11) (1.359,0.12) (1.407,0.11) (1.456,0.1) (1.5,0.1)};
\addplot[cred] coordinates {(-0.5,0.25) (-0.477,0.28) (-0.453,0.25) (-0.42,0.24) (-0.38,0.25) (-0.339,0.27) (-0.307,0.25) (-0.266,0.24) (-0.233,0.23) (-0.201,0.26) (-0.152,0.25) (-0.104,0.25) (-0.055,0.24) (-0.006,0.24) (0.026,0.21) (0.059,0.2) (0.108,0.2) (0.156,0.2) (0.189,0.2) (0.221,0.17) (0.27,0.15) (0.319,0.13) (0.351,0.11) (0.384,0.1) (0.433,0.11) (0.481,0.11) (0.53,0.1) (0.579,0.1) (0.628,0.11) (0.66,0.1) (0.709,0.09) (0.774,0.08) (0.839,0.07) (0.887,0.07) (0.936,0.06) (0.969,0.06) (1.017,0.09) (1.066,0.07) (1.131,0.07) (1.164,0.07) (1.212,0.08) (1.261,0.06) (1.326,0.06) (1.391,0.06) (1.44,0.06) (1.5,0.07)};
\addplot[cnavy] coordinates {(-0.5,0.24) (-0.461,0.24) (-0.412,0.23) (-0.38,0.26) (-0.331,0.26) (-0.315,0.28) (-0.282,0.25) (-0.233,0.24) (-0.201,0.23) (-0.152,0.24) (-0.104,0.24) (-0.055,0.23) (-0.022,0.22) (-0.006,0.23) (0.026,0.27) (0.059,0.26) (0.091,0.24) (0.14,0.23) (0.189,0.21) (0.238,0.19) (0.286,0.17) (0.351,0.17) (0.416,0.18) (0.465,0.21) (0.498,0.18) (0.546,0.18) (0.595,0.17) (0.628,0.18) (0.676,0.17) (0.725,0.16) (0.774,0.18) (0.822,0.17) (0.871,0.16) (0.936,0.16) (0.969,0.14) (1.034,0.14) (1.082,0.14) (1.131,0.16) (1.196,0.15) (1.245,0.17) (1.294,0.16) (1.342,0.15) (1.407,0.16) (1.456,0.17) (1.5,0.16)};
\addplot[totstyle] coordinates {(-0.5,0.24) (-0.461,0.24) (-0.412,0.22) (-0.38,0.25) (-0.331,0.25) (-0.282,0.25) (-0.233,0.23) (-0.201,0.23) (-0.152,0.23) (-0.104,0.21) (-0.055,0.2) (-0.022,0.18) (-0.006,0.21) (0.026,0.21) (0.075,0.2) (0.124,0.21) (0.173,0.21) (0.221,0.19) (0.27,0.18) (0.319,0.17) (0.367,0.16) (0.416,0.18) (0.465,0.17) (0.514,0.17) (0.563,0.16) (0.595,0.16) (0.628,0.17) (0.66,0.17) (0.709,0.16) (0.758,0.18) (0.806,0.18) (0.855,0.17) (0.904,0.16) (0.952,0.14) (0.985,0.13) (1.034,0.13) (1.082,0.14) (1.131,0.17) (1.18,0.15) (1.229,0.16) (1.277,0.16) (1.326,0.16) (1.375,0.15) (1.424,0.15) (1.5,0.16)};
\panelticks{0,0.2,0.4,0.6,0.8}{0.1,0.3,0.5,0.7}
\node[plab] at (axis description cs:0.089,0.899) {(f)};
\end{axis}
\end{tikzpicture}
\end{document}
